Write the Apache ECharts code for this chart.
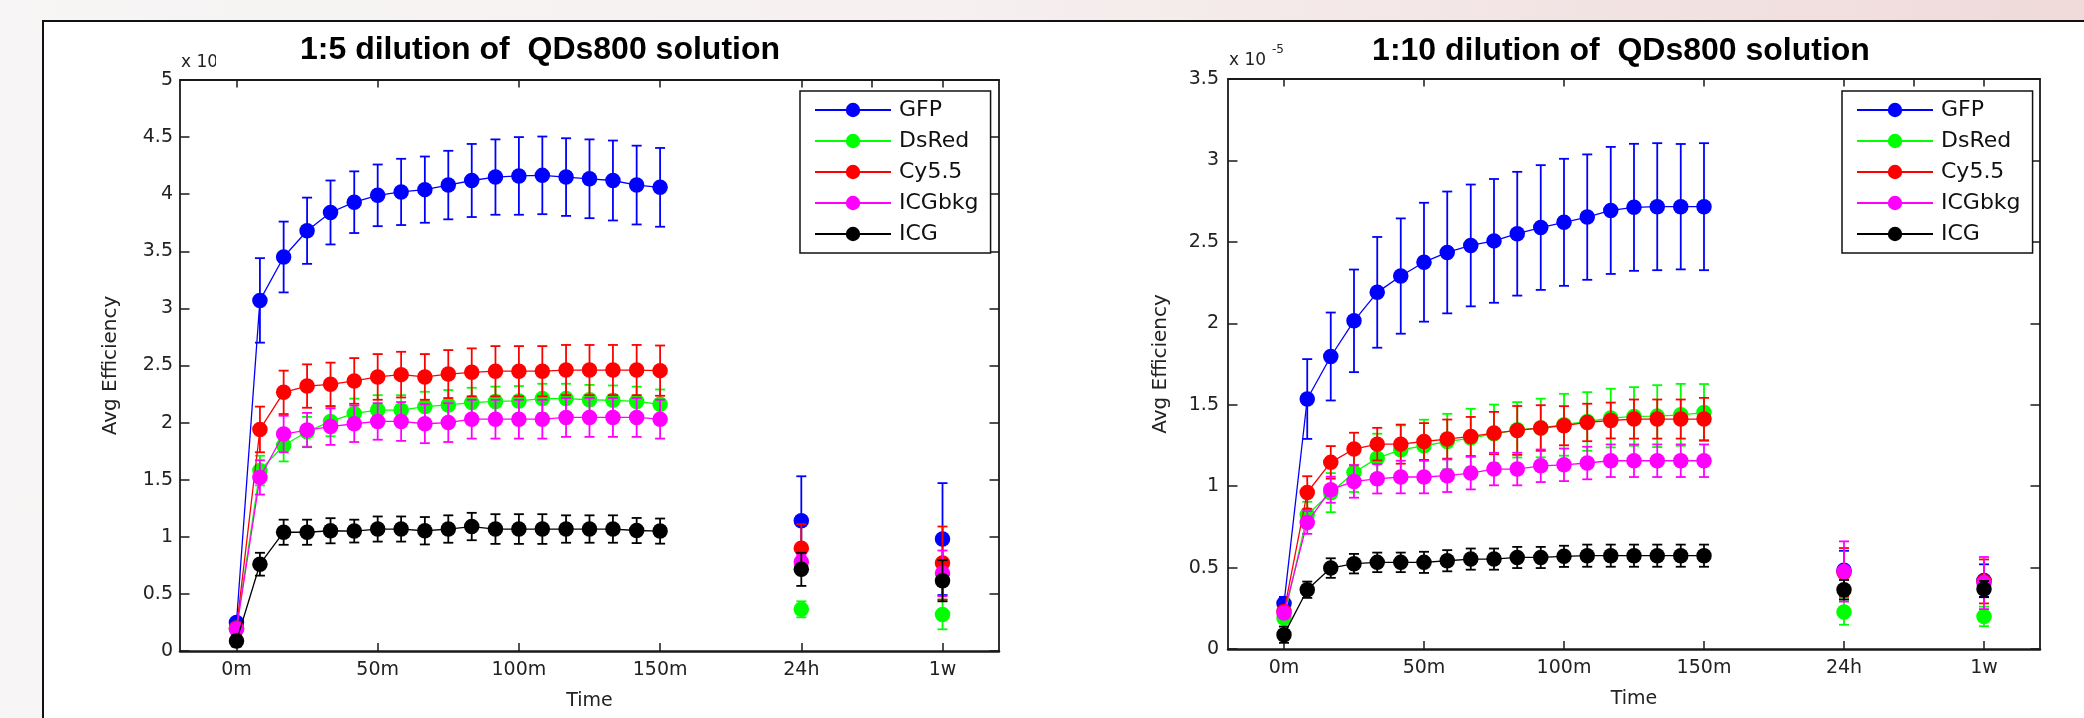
<!DOCTYPE html>
<html><head><meta charset="utf-8">
<script src="https://cdn.jsdelivr.net/npm/echarts@6/dist/echarts.min.js"></script>
<style>
html,body{margin:0;padding:0;}
body{width:2084px;height:718px;position:relative;overflow:hidden;background:linear-gradient(90deg,#f7f5f5 0%,#f6f0f0 45%,#f0dada 100%);}
#frame{position:absolute;left:42px;top:20px;right:0;bottom:0;background:#fff;border-top:2px solid #111;border-left:2px solid #111;}
#c{position:absolute;left:0;top:0;width:2084px;height:718px;}
</style>
</head><body><div id="frame"></div><div id="c"></div><script>
// ---- data ----
// time positions on the axis (minutes; 24h and 1w are placed at 200 and 250 on the axis)
const times = [0, 8.3, 16.7, 25, 33.3, 41.7, 50, 58.3, 66.7, 75, 83.3, 91.7, 100, 108.3, 116.7, 125, 133.3, 141.7, 150, 200, 250];
const xTickValues = [0, 50, 100, 150, 200, 250];
const xTickLabels = ['0m', '50m', '100m', '150m', '24h', '1w'];
const topTickValues = [0, 50, 100, 150, 200, 225, 250];
const seriesNames = ['GFP', 'DsRed', 'Cy5.5', 'ICGbkg', 'ICG'];
const seriesColors = ['#0000ff', '#00ff00', '#ff0000', '#ff00ff', '#000000'];
const titles = ['1:5 dilution of  QDs800 solution', '1:10 dilution of  QDs800 solution'];

// 1:5 dilution (values x 1e-5 shown as "x 10")
const gfp5 = [0.25, 3.07, 3.45, 3.68, 3.84, 3.93, 3.99, 4.02, 4.04, 4.08, 4.12, 4.15, 4.16, 4.165, 4.15, 4.135, 4.12, 4.08, 4.06, 1.14, 0.98];
const gfp5Err = [0.04, 0.37, 0.31, 0.29, 0.28, 0.27, 0.27, 0.29, 0.29, 0.30, 0.32, 0.33, 0.34, 0.34, 0.34, 0.345, 0.35, 0.345, 0.345, 0.39, 0.49];
const dsred5 = [0.20, 1.58, 1.80, 1.92, 2.01, 2.08, 2.11, 2.11, 2.14, 2.155, 2.175, 2.185, 2.19, 2.21, 2.21, 2.20, 2.195, 2.185, 2.16, 0.365, 0.32];
const dsred5Err = [0.03, 0.13, 0.14, 0.13, 0.13, 0.13, 0.13, 0.13, 0.13, 0.13, 0.13, 0.13, 0.13, 0.13, 0.13, 0.13, 0.13, 0.13, 0.13, 0.07, 0.13];
const cy5 = [0.20, 1.94, 2.265, 2.32, 2.335, 2.365, 2.40, 2.42, 2.40, 2.425, 2.44, 2.45, 2.45, 2.45, 2.46, 2.46, 2.46, 2.46, 2.455, 0.90, 0.77];
const cy5Err = [0.03, 0.20, 0.19, 0.19, 0.19, 0.20, 0.20, 0.20, 0.20, 0.21, 0.21, 0.22, 0.22, 0.22, 0.22, 0.22, 0.22, 0.22, 0.22, 0.21, 0.32];
const icgbkg5 = [0.19, 1.52, 1.90, 1.935, 1.965, 1.99, 2.01, 2.01, 1.99, 2.00, 2.03, 2.03, 2.03, 2.03, 2.045, 2.045, 2.045, 2.045, 2.03, 0.78, 0.68];
const icgbkg5Err = [0.03, 0.15, 0.16, 0.15, 0.16, 0.16, 0.16, 0.17, 0.17, 0.17, 0.17, 0.17, 0.17, 0.17, 0.17, 0.17, 0.17, 0.17, 0.17, 0.06, 0.20];
const icg5 = [0.088, 0.76, 1.04, 1.04, 1.053, 1.05, 1.068, 1.068, 1.053, 1.068, 1.09, 1.068, 1.068, 1.068, 1.068, 1.068, 1.068, 1.055, 1.05, 0.715, 0.615];
const icg5Err = [0.05, 0.10, 0.11, 0.11, 0.11, 0.10, 0.11, 0.11, 0.12, 0.12, 0.12, 0.13, 0.13, 0.13, 0.12, 0.12, 0.12, 0.11, 0.11, 0.145, 0.18];

// 1:10 dilution (values x 1e-5)
const gfp10 = [0.28, 1.535, 1.796, 2.015, 2.19, 2.29, 2.375, 2.435, 2.478, 2.506, 2.55, 2.588, 2.62, 2.652, 2.693, 2.712, 2.716, 2.716, 2.716, 0.483, 0.42];
const gfp10Err = [0.04, 0.245, 0.27, 0.315, 0.34, 0.354, 0.365, 0.374, 0.374, 0.38, 0.38, 0.383, 0.39, 0.385, 0.39, 0.39, 0.39, 0.385, 0.39, 0.12, 0.10];
const dsred10 = [0.19, 0.824, 0.96, 1.084, 1.172, 1.223, 1.248, 1.274, 1.295, 1.321, 1.346, 1.357, 1.377, 1.397, 1.418, 1.428, 1.43, 1.438, 1.452, 0.227, 0.20];
const dsred10Err = [0.03, 0.08, 0.12, 0.12, 0.15, 0.15, 0.16, 0.17, 0.18, 0.18, 0.17, 0.18, 0.19, 0.18, 0.18, 0.18, 0.19, 0.19, 0.175, 0.078, 0.06];
const cy10 = [0.23, 0.961, 1.146, 1.228, 1.258, 1.258, 1.274, 1.289, 1.305, 1.326, 1.342, 1.357, 1.371, 1.391, 1.403, 1.412, 1.412, 1.412, 1.412, 0.47, 0.415];
const cy10Err = [0.03, 0.10, 0.10, 0.10, 0.10, 0.12, 0.113, 0.12, 0.12, 0.13, 0.15, 0.14, 0.12, 0.115, 0.11, 0.12, 0.12, 0.12, 0.13, 0.15, 0.135];
const icgbkg10 = [0.221, 0.777, 0.978, 1.029, 1.045, 1.056, 1.056, 1.064, 1.08, 1.105, 1.105, 1.125, 1.131, 1.142, 1.156, 1.156, 1.156, 1.156, 1.156, 0.476, 0.405];
const icgbkg10Err = [0.03, 0.07, 0.08, 0.10, 0.09, 0.10, 0.10, 0.10, 0.10, 0.10, 0.10, 0.10, 0.10, 0.10, 0.10, 0.10, 0.10, 0.10, 0.10, 0.185, 0.16];
const icg10 = [0.088, 0.364, 0.497, 0.524, 0.532, 0.532, 0.532, 0.542, 0.552, 0.552, 0.562, 0.562, 0.569, 0.573, 0.573, 0.573, 0.573, 0.573, 0.573, 0.364, 0.368];
const icg10Err = [0.05, 0.05, 0.06, 0.06, 0.06, 0.06, 0.065, 0.065, 0.065, 0.065, 0.065, 0.065, 0.065, 0.068, 0.068, 0.068, 0.068, 0.068, 0.068, 0.06, 0.05];

const charts = [
  { yMax: 5, vals: [gfp5, dsred5, cy5, icgbkg5, icg5], errs: [gfp5Err, dsred5Err, cy5Err, icgbkg5Err, icg5Err] },
  { yMax: 3.5, vals: [gfp10, dsred10, cy10, icgbkg10, icg10], errs: [gfp10Err, dsred10Err, cy10Err, icgbkg10Err, icg10Err] }
];

// ---- layout / style ----
const TICKFONT = 'DejaVu Sans';
const AX = '#1a1a1a';
const grids = [
  { left: 180, top: 80, width: 819, height: 571 },
  { left: 1228, top: 79, width: 812, height: 570 }
];
const legendPos = [{ left: 800, top: 91 }, { left: 1842, top: 91 }];
const yNameGap = [59, 57];
const yLabelMargin = [7, 9];

function xLabel(v) {
  for (let i = 0; i < xTickValues.length; i++) if (Math.abs(v - xTickValues[i]) < 1e-6) return xTickLabels[i];
  return '';
}

function lineData(vals) {
  const d = [];
  for (let i = 0; i < 19; i++) d.push([times[i], vals[i]]);
  d.push([175, '-']);
  d.push([times[19], vals[19]]);
  d.push([225, '-']);
  d.push([times[20], vals[20]]);
  return d;
}

const xAxis = [], yAxis = [], series = [], legend = [];
charts.forEach((ch, g) => {
  xAxis.push({
    type: 'value', gridIndex: g, min: -20, max: 270, position: 'bottom',
    axisLine: { show: true, onZero: false, lineStyle: { color: AX, width: 2.5 } },
    axisTick: { show: true, inside: true, length: 8, customValues: xTickValues, lineStyle: { color: AX, width: 1.5 } },
    axisLabel: { customValues: xTickValues, formatter: xLabel, fontFamily: TICKFONT, fontSize: 19, color: '#222', margin: 10 },
    splitLine: { show: false },
    name: 'Time', nameLocation: 'middle', nameGap: 41,
    nameTextStyle: { fontFamily: TICKFONT, fontSize: 19, color: '#222' }
  });
  xAxis.push({
    type: 'value', gridIndex: g, min: -20, max: 270, position: 'top',
    axisLine: { show: true, onZero: false, lineStyle: { color: AX, width: 1.8 } },
    axisTick: { show: true, inside: true, length: 7.5, customValues: topTickValues, lineStyle: { color: AX, width: 1.5 } },
    axisLabel: { show: false }, splitLine: { show: false }
  });
  yAxis.push({
    type: 'value', gridIndex: g, min: 0, max: ch.yMax, interval: 0.5, position: 'left',
    axisLine: { show: true, onZero: false, lineStyle: { color: AX, width: 1.8 } },
    axisTick: { show: true, inside: true, length: 9.5, lineStyle: { color: AX, width: 1.5 } },
    axisLabel: { formatter: v => String(Math.round(v * 10) / 10), fontFamily: TICKFONT, fontSize: 19, color: '#222', margin: yLabelMargin[g] },
    splitLine: { show: false },
    name: 'Avg Efficiency', nameLocation: 'middle', nameRotate: 90, nameGap: yNameGap[g],
    nameTextStyle: { fontFamily: TICKFONT, fontSize: 20, color: '#222' }
  });
  yAxis.push({
    type: 'value', gridIndex: g, min: 0, max: ch.yMax, interval: 0.5, position: 'right',
    axisLine: { show: true, onZero: false, lineStyle: { color: AX, width: 1.8 } },
    axisTick: { show: true, inside: true, length: 9.5, lineStyle: { color: AX, width: 1.5 } },
    axisLabel: { show: false }, splitLine: { show: false }
  });

  seriesNames.forEach((name, k) => {
    const color = seriesColors[k];
    const vals = ch.vals[k], errs = ch.errs[k];
    series.push({
      type: 'custom', xAxisIndex: g * 2, yAxisIndex: g * 2, silent: true, z: 2 + k * 2,
      data: vals.map((v, i) => [times[i], v - errs[i], v + errs[i]]),
      renderItem: (params, api) => {
        const lo = api.coord([api.value(0), api.value(1)]);
        const hi = api.coord([api.value(0), api.value(2)]);
        const w = 5;
        const st = { stroke: color, lineWidth: 1.8 };
        return {
          type: 'group', children: [
            { type: 'line', shape: { x1: lo[0], y1: lo[1], x2: hi[0], y2: hi[1] }, style: st },
            { type: 'line', shape: { x1: lo[0] - w, y1: lo[1], x2: lo[0] + w, y2: lo[1] }, style: st },
            { type: 'line', shape: { x1: hi[0] - w, y1: hi[1], x2: hi[0] + w, y2: hi[1] }, style: st }
          ]
        };
      }
    });
    series.push({
      type: 'line', name: name, xAxisIndex: g * 2, yAxisIndex: g * 2, z: 3 + k * 2,
      data: lineData(vals), connectNulls: false,
      symbol: 'circle', symbolSize: 15.5, showSymbol: true,
      lineStyle: { color: color, width: 1.3 }, itemStyle: { color: color },
      emphasis: { disabled: true }
    });
  });

  legend.push({
    orient: 'vertical', left: legendPos[g].left, top: legendPos[g].top,
    data: seriesNames, selectedMode: false,
    itemWidth: 76, itemHeight: 18, itemGap: 9,
    padding: [8, 12, 8, 14], borderColor: '#111', borderWidth: 1.5, backgroundColor: '#fff',
    textStyle: { fontFamily: TICKFONT, fontSize: 22, color: '#111', lineHeight: 22, padding: [0, 0, 0, 3] }
  });
});

const graphic = [
  { type: 'text', z: 100, style: { text: titles[0], x: 540, y: 50, align: 'center', verticalAlign: 'middle', fontFamily: 'Liberation Sans', fontWeight: 'bold', fontSize: 32, fill: '#000' } },
  { type: 'text', z: 100, style: { text: titles[1], x: 1621, y: 51, align: 'center', verticalAlign: 'middle', fontFamily: 'Liberation Sans', fontWeight: 'bold', fontSize: 32, fill: '#000' } },
  { type: 'text', z: 100, style: { text: 'x 10', x: 181, y: 63, align: 'left', verticalAlign: 'middle', fontFamily: TICKFONT, fontSize: 17, fill: '#222' } },
  { type: 'rect', z: 101, shape: { x: 216, y: 52, width: 12, height: 22 }, style: { fill: '#fff' } },
  { type: 'text', z: 100, style: { text: 'x 10', x: 1229, y: 61, align: 'left', verticalAlign: 'middle', fontFamily: TICKFONT, fontSize: 17, fill: '#222' } },
  { type: 'text', z: 100, style: { text: '-5', x: 1272, y: 50, align: 'left', verticalAlign: 'middle', fontFamily: TICKFONT, fontSize: 12, fill: '#222' } }
];

const chart = echarts.init(document.getElementById('c'), null, { renderer: 'canvas' });
chart.setOption({
  animation: false,
  backgroundColor: 'transparent',
  grid: grids,
  xAxis: xAxis, yAxis: yAxis,
  legend: legend,
  series: series,
  graphic: graphic
});
</script></body></html>
